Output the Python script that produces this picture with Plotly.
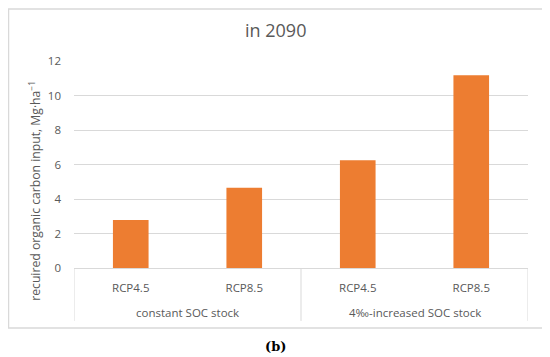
import plotly.graph_objects as go

groups = ["constant SOC stock", "4‰-increased SOC stock"]
group_centers = [0.5, 2.5]
group_edges = [-0.5, 1.5, 3.5]
scenarios = ["RCP4.5", "RCP8.5", "RCP4.5", "RCP8.5"]
values = [2.78, 4.65, 6.25, 11.17]
y_ticks = [0, 2, 4, 6, 8, 10, 12]

FONT = "Open Sans"
GRAY = "#595959"
LINE = "#d9d9d9"

positions = list(range(len(values)))
fig = go.Figure(go.Bar(x=positions, y=values, marker_color="#ED7D31", marker_line_width=0))

fig.update_layout(
    width=550, height=357,
    margin=dict(l=66, r=30, t=53, b=97),
    paper_bgcolor="white", plot_bgcolor="white",
    bargap=0.686,
    showlegend=False,
    font=dict(family=FONT, color=GRAY, size=11.5),
)
fig.update_yaxes(range=[0, 12], tickvals=y_ticks, showgrid=True, gridcolor=LINE,
                 gridwidth=1, zeroline=False, showline=False, ticks="", automargin=False,
                 tickfont=dict(size=11.5, color=GRAY), ticklabelstandoff=12)
fig.update_xaxes(range=[-0.5, 3.5], tickvals=positions, ticktext=scenarios,
                 showline=True, linecolor=LINE, linewidth=1, ticks="", automargin=False,
                 showgrid=False, tickfont=dict(size=11.5, color=GRAY), ticklabelstandoff=9)

fig.add_annotation(text="in 2090", xref="paper", yref="paper", x=0.4449, y=1.148,
                   showarrow=False, xanchor="center", yanchor="middle",
                   font=dict(family=FONT, size=18, color=GRAY))
for name, c in zip(groups, group_centers):
    fig.add_annotation(text=name, xref="x", yref="paper", x=c, y=-0.2137, showarrow=False,
                       xanchor="center", yanchor="middle", font=dict(size=11.5, color=GRAY))
for e in group_edges:
    fig.add_shape(type="line", xref="x", yref="paper", x0=e, x1=e, y0=0, y1=-0.2557,
                  line=dict(color=LINE, width=1))

fig.add_annotation(text="recuired organic carbon input, Mg·ha<sup>−1</sup>", textangle=-90,
                   xref="paper", yref="paper", x=-0.085, y=0.375, showarrow=False,
                   xanchor="center", yanchor="middle", font=dict(size=12.2, color=GRAY))
fig.add_annotation(text="<b>(b)</b>", xref="paper", yref="paper", x=0.443, y=-0.381,
                   showarrow=False, xanchor="center", yanchor="middle",
                   font=dict(family="DejaVu Serif", size=13, color="black"))
fig.add_shape(type="rect", xref="paper", yref="paper", x0=-0.1443, x1=1.033,
              y0=-0.2894, y1=1.2518, line=dict(color=LINE, width=1.5), fillcolor="rgba(0,0,0,0)")

fig.write_html("out.html")
